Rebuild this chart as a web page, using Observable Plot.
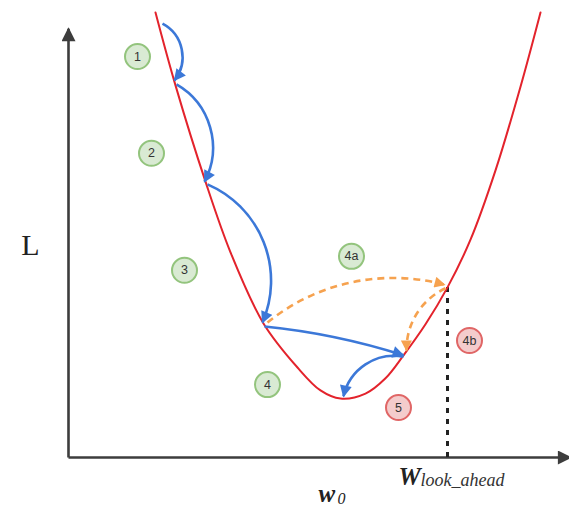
<!DOCTYPE html>
<html><head><meta charset="utf-8">
<script src="https://cdn.jsdelivr.net/npm/d3@7"></script>
<script src="https://cdn.jsdelivr.net/npm/@observablehq/plot@0.6"></script>
<style>html,body{margin:0;padding:0;background:#fff;} svg{display:block;}</style>
</head><body><div id="chart"></div>
<script>
// Loss curve L(w)
const curveW = [1.74, 2.14, 2.74, 3.24, 3.90, 4.58, 5.04, 5.44, 5.94, 6.34, 6.70, 7.14, 7.58, 8.04, 8.54, 9.04, 9.44];
const curveL = [9.89, 8.27, 6.13, 4.56, 2.98, 2.00, 1.49, 1.31, 1.42, 1.76, 2.27, 2.96, 3.78, 4.84, 6.38, 8.24, 9.89];

// Update steps (arrows): start/end points, bend and kind
const stepW1 = [1.88, 2.16, 2.78, 3.92, 6.70, 3.98, 7.54];
const stepL1 = [9.64, 8.29, 6.07, 2.91, 2.24, 3.00, 3.76];
const stepW2 = [2.12, 2.72, 3.88, 6.70, 5.50, 7.52, 6.76];
const stepL2 = [8.38, 6.13, 3.00, 2.27, 1.36, 3.84, 2.38];
const stepBend = [50, 44, 45, 6, -44, 27, -33];
const stepKind = ["step", "step", "step", "step", "step", "look", "look"];

// Circled step labels
const markText = ["1", "2", "3", "4a", "4", "5", "4b"];
const markW = [1.38, 1.66, 2.32, 5.66, 3.98, 6.60, 8.02];
const markL = [8.91, 6.76, 4.16, 4.47, 1.62, 1.11, 2.60];
const markKind = ["done", "done", "done", "done", "done", "ahead", "ahead"];

// Look-ahead weight
const lookW = 7.58;
const lookL = 3.78;

const colors = {step: "#3c78d8", look: "#f6a24f", axis: "#3d3d3d"};
const idx = d3.range(stepW1.length);
const marks = [];

// axes as arrows
marks.push(Plot.arrow([0], {x1: 0, y1: 0, x2: 0, y2: 9.53, stroke: colors.axis, strokeWidth: 2.6, headLength: 0}));
marks.push(Plot.arrow([0], {x1: 0, y1: 0, x2: 10.04, y2: 0, stroke: colors.axis, strokeWidth: 2.6, headLength: 0}));

// dashed look-ahead line
marks.push(Plot.ruleX([lookW], {y1: 0, y2: lookL, stroke: "#222", strokeWidth: 3, strokeDasharray: "5,6"}));

// loss curve
marks.push(Plot.line(curveW.map((w, i) => ({w, L: curveL[i]})), {x: "w", y: "L", curve: "catmull-rom", stroke: "#e3232c", strokeWidth: 2}));

// step arrows
for (const i of idx) {
  const look = stepKind[i] === "look";
  marks.push(Plot.arrow([i], {
    x1: () => stepW1[i], y1: () => stepL1[i], x2: () => stepW2[i], y2: () => stepL2[i],
    bend: stepBend[i], headLength: 0,
    stroke: look ? colors.look : colors.step,
    strokeWidth: 2.6,
    strokeDasharray: look ? "7,5" : null
  }));
}

// circles
const circ = markText.map((t, i) => ({t, w: markW[i], L: markL[i], k: markKind[i]}));
marks.push(Plot.dot(circ, {x: "w", y: "L", r: 12.5,
  fill: d => d.k === "done" ? "#d9ead3" : "#f4cccc",
  stroke: d => d.k === "done" ? "#93c47d" : "#e06666", strokeWidth: 2}));
marks.push(Plot.text(circ, {x: "w", y: "L", text: "t", fill: "#333", fontSize: 12.5, fontFamily: "Liberation Sans"}));

// axis labels
marks.push(Plot.text(["L"], {x: -0.76, y: 4.71, text: d => d, fontFamily: "Liberation Serif", fontSize: 30, fill: "#222"}));
marks.push(Plot.text(["w"], {x: 5.0, y: -0.82, text: d => d, textAnchor: "start", fontFamily: "Liberation Serif", fontStyle: "italic", fontWeight: "bold", fontSize: 25, fill: "#222"}));
marks.push(Plot.text(["0"], {x: 5.38, y: -0.92, text: d => d, textAnchor: "start", fontFamily: "Liberation Serif", fontStyle: "italic", fontSize: 16, fill: "#222"}));
marks.push(Plot.text(["W"], {x: 6.6, y: -0.44, text: d => d, textAnchor: "start", fontFamily: "Liberation Serif", fontStyle: "italic", fontWeight: "bold", fontSize: 25, fill: "#222"}));
marks.push(Plot.text(["look_ahead"], {x: 7.04, y: -0.51, text: d => d, textAnchor: "start", fontFamily: "Liberation Serif", fontStyle: "italic", fontSize: 18, fill: "#333"}));

const chart = Plot.plot({
  width: 569, height: 517,
  marginTop: 0, marginRight: 0, marginBottom: 0, marginLeft: 0,
  x: {domain: [0, 10], range: [68, 568], axis: null},
  y: {domain: [0, 10], range: [457, 7], axis: null},
  style: {background: "#fff"},
  marks
});

// filled triangular arrowheads
const svg = d3.select(chart);
const defs = svg.insert("defs", ":first-child");
const headSpec = {[colors.step]: ["h-step", 13, 12], [colors.look]: ["h-look", 12, 11], [colors.axis]: ["h-axis", 15, 14]};
for (const [color, [id, w, h]] of Object.entries(headSpec)) {
  defs.append("marker").attr("id", id).attr("viewBox", "0 0 10 10").attr("refX", 9).attr("refY", 5)
    .attr("markerUnits", "userSpaceOnUse").attr("markerWidth", w).attr("markerHeight", h).attr("orient", "auto")
    .append("path").attr("d", "M0,0L10,5L0,10z").attr("fill", color);
}
svg.selectAll('g[aria-label="arrow"]').each(function () {
  const color = this.getAttribute("stroke");
  const spec = headSpec[color];
  d3.select(this).selectAll("path").each(function () {
    const d = this.getAttribute("d") || "";
    const cut = d.indexOf("M", 1);
    if (cut > 0) this.setAttribute("d", d.slice(0, cut));
    this.removeAttribute("stroke-linecap");
    if (spec) this.setAttribute("marker-end", `url(#${spec[0]})`);
  });
  this.setAttribute("stroke-linecap", "butt");
});

document.getElementById("chart").append(chart);
</script>
</body></html>
